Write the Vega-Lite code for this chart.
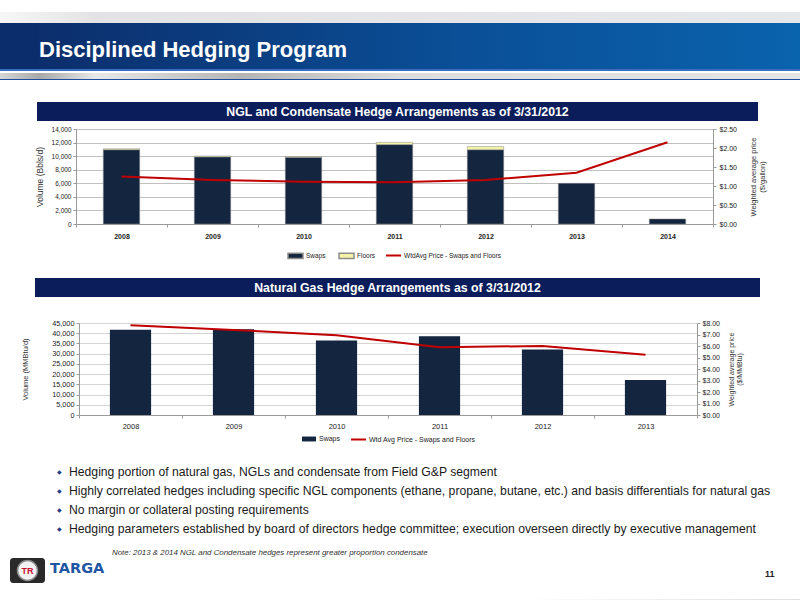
{
  "$schema": "https://vega.github.io/schema/vega-lite/v6.json",
  "background": "white",
  "padding": 0,
  "spacing": 0,
  "resolve": {"scale": {"color": "independent", "stroke": "independent"}, "legend": {"color": "independent", "stroke": "independent"}},
  "config": {
    "view": {"stroke": null},
    "font": "Liberation Sans",
    "concat": {"spacing": 0},
    "axis": {"labelFont": "Liberation Sans", "titleFont": "Liberation Sans"},
    "legend": {"labelFont": "Liberation Sans", "layout": {"bottom": {"anchor": "middle", "margin": 9}}}
  },
  "datasets": {
    "header": [{"t": "Disciplined Hedging Program"}],
    "title1": [{"t": "NGL and Condensate Hedge Arrangements as of 3/31/2012"}],
    "title2": [{"t": "Natural Gas Hedge Arrangements as of 3/31/2012"}],
    "ngl_volume": [
      {"year": "2008", "series": "Swaps", "volume": 10950},
      {"year": "2008", "series": "Floors", "volume": 150},
      {"year": "2009", "series": "Swaps", "volume": 9900},
      {"year": "2009", "series": "Floors", "volume": 120},
      {"year": "2010", "series": "Swaps", "volume": 9820},
      {"year": "2010", "series": "Floors", "volume": 100},
      {"year": "2011", "series": "Swaps", "volume": 11700},
      {"year": "2011", "series": "Floors", "volume": 330},
      {"year": "2012", "series": "Swaps", "volume": 10950},
      {"year": "2012", "series": "Floors", "volume": 480},
      {"year": "2013", "series": "Swaps", "volume": 5990},
      {"year": "2014", "series": "Swaps", "volume": 740}
    ],
    "ngl_price": [
      {"year": "2008", "series": "WtdAvg Price - Swaps and Floors", "price": 1.25},
      {"year": "2009", "series": "WtdAvg Price - Swaps and Floors", "price": 1.16},
      {"year": "2010", "series": "WtdAvg Price - Swaps and Floors", "price": 1.11},
      {"year": "2011", "series": "WtdAvg Price - Swaps and Floors", "price": 1.1},
      {"year": "2012", "series": "WtdAvg Price - Swaps and Floors", "price": 1.16},
      {"year": "2013", "series": "WtdAvg Price - Swaps and Floors", "price": 1.35},
      {"year": "2014", "series": "WtdAvg Price - Swaps and Floors", "price": 2.15}
    ],
    "gas_volume": [
      {"year": "2008", "series": "Swaps", "volume": 41750},
      {"year": "2009", "series": "Swaps", "volume": 41900},
      {"year": "2010", "series": "Swaps", "volume": 36400},
      {"year": "2011", "series": "Swaps", "volume": 38500},
      {"year": "2012", "series": "Swaps", "volume": 32000},
      {"year": "2013", "series": "Swaps", "volume": 17060}
    ],
    "gas_price": [
      {"year": "2008", "series": "Wtd Avg Price - Swaps and Floors", "price": 7.8},
      {"year": "2009", "series": "Wtd Avg Price - Swaps and Floors", "price": 7.4},
      {"year": "2010", "series": "Wtd Avg Price - Swaps and Floors", "price": 6.94},
      {"year": "2011", "series": "Wtd Avg Price - Swaps and Floors", "price": 5.9},
      {"year": "2012", "series": "Wtd Avg Price - Swaps and Floors", "price": 6.0},
      {"year": "2013", "series": "Wtd Avg Price - Swaps and Floors", "price": 5.23}
    ],
    "bullets": [
      {"text": "Hedging portion of natural gas, NGLs and condensate from Field G&P segment"},
      {"text": "Highly correlated hedges including specific NGL components (ethane, propane, butane, etc.) and basis differentials for natural gas"},
      {"text": "No margin or collateral posting requirements"},
      {"text": "Hedging parameters established by board of directors hedge committee; execution overseen directly by executive management"}
    ],
    "note": [{"t": "Note:   2013 & 2014 NGL and Condensate hedges represent greater proportion condensate"}],
    "logo": [{"name": "TARGA", "mark": "TR"}],
    "page": [{"n": "11"}]
  },
  "vconcat": [
    {"width": 800, "height": 12, "view": {"fill": "white"}, "data": {"values": []}, "mark": "text", "encoding": {}},
    {"width": 800, "height": 11, "data": {"values": [{}]}, "mark": {"type": "rect", "color": {"gradient": "linear", "x1": 0, "y1": 0, "x2": 1, "y2": 0, "stops": [{"offset": 0, "color": "#f7f7f7"}, {"offset": 0.12, "color": "#e3e3e5"}, {"offset": 1, "color": "#e6e7ea"}]}}, "encoding": {}},
    {"hconcat": [
      {"width": 39, "height": 46, "view": {"fill": "#0c2d6b"}, "data": {"values": []}, "mark": "text", "encoding": {}},
      {"width": 761, "height": 46, "data": {"name": "header"}, "layer": [
        {"mark": {"type": "rect", "color": {"gradient": "linear", "x1": 0, "y1": 0, "x2": 1, "y2": 0, "stops": [{"offset": 0, "color": "#0c2e6c"}, {"offset": 0.55, "color": "#0a4f97"}, {"offset": 1, "color": "#0a63ad"}]}}, "encoding": {}},
        {"mark": {"type": "text", "align": "left", "baseline": "middle", "dy": 4, "fontSize": 22, "fontWeight": "bold", "color": "white"}, "encoding": {"x": {"datum": 0, "type": "quantitative", "scale": {"domain": [0, 1]}, "axis": null}, "text": {"field": "t"}}}
      ]}
    ], "spacing": 0},
    {"width": 800, "height": 2, "view": {"fill": "#3a6cc0"}, "data": {"values": []}, "mark": "text", "encoding": {}},
    {"width": 800, "height": 2, "view": {"fill": "white"}, "data": {"values": []}, "mark": "text", "encoding": {}},
    {"width": 800, "height": 6, "data": {"values": [{}]}, "mark": {"type": "rect", "color": {"gradient": "linear", "x1": 0, "y1": 0, "x2": 1, "y2": 0, "stops": [{"offset": 0, "color": "#d6d6d6"}, {"offset": 0.05, "color": "#a8a8a8"}, {"offset": 0.12, "color": "#e8e8e8"}, {"offset": 0.3, "color": "#b4b4b4"}, {"offset": 0.5, "color": "#dcdcdc"}, {"offset": 1, "color": "#e4e4e4"}]}}, "encoding": {}},
    {"width": 800, "height": 1, "view": {"fill": "#1d4f9a"}, "data": {"values": []}, "mark": "text", "encoding": {}},
    {"width": 800, "height": 22, "view": {"fill": "white"}, "data": {"values": []}, "mark": "text", "encoding": {}},
    {"hconcat": [
      {"width": 37, "height": 19, "view": {"fill": "white"}, "data": {"values": []}, "mark": "text", "encoding": {}},
      {"width": 721, "height": 19, "view": {"fill": "#0b1e5b"}, "data": {"name": "title1"}, "mark": {"type": "text", "fontSize": 12.3, "fontWeight": "bold", "color": "white", "baseline": "middle", "align": "center"}, "encoding": {"text": {"field": "t"}}}
    ], "spacing": 0},
    {"width": 800, "height": 4, "view": {"fill": "white"}, "data": {"values": []}, "mark": "text", "encoding": {}},
    {"hconcat": [
      {"width": 35, "height": 1, "view": {"fill": "white"}, "data": {"values": []}, "mark": "text", "encoding": {}},
      {
        "width": 637, "height": 95,
        "layer": [
          {
            "data": {"name": "ngl_volume"},
            "mark": {"type": "bar", "width": {"band": 0.4}, "stroke": "#8c8c8c", "strokeWidth": 0.5},
            "encoding": {
              "x": {"field": "year", "type": "ordinal", "scale": {"paddingInner": 0, "paddingOuter": 0},
                    "axis": {"title": null, "labelAngle": 0, "labelFontSize": 7, "labelFontWeight": "bold", "labelColor": "#222", "tickBand": "extent", "tickSize": 3, "tickColor": "#9a9a9a", "domainColor": "#9a9a9a", "labelPadding": 5}},
              "y": {"field": "volume", "type": "quantitative", "stack": "zero", "scale": {"domain": [0, 14000], "nice": false},
                    "axis": {"title": "Volume (Bbls/d)", "values": [0, 2000, 4000, 6000, 8000, 10000, 12000, 14000], "format": ",.0f", "labelFontSize": 6.5, "labelColor": "#222", "tickSize": 3, "tickColor": "#9a9a9a", "domainColor": "#9a9a9a", "gridColor": "#c0c0c0", "labelPadding": 2, "titleFontSize": 8.5, "titleFontWeight": "normal", "titleColor": "#333", "titlePadding": 7}},
              "color": {"field": "series", "type": "nominal", "scale": {"domain": ["Swaps", "Floors"], "range": ["#14253f", "#f3f3a8"]},
                        "legend": {"orient": "bottom", "direction": "horizontal", "title": null, "symbolType": "M-1,-0.35H1V0.35H-1Z", "symbolSize": 225, "labelFontSize": 6.5, "labelColor": "#222", "labelOffset": 2, "columnPadding": 10, "offset": 8}},
              "order": {"field": "series", "sort": "descending"}
            }
          },
          {
            "data": {"name": "ngl_price"},
            "mark": {"type": "line", "strokeWidth": 2},
            "encoding": {
              "x": {"field": "year", "type": "ordinal"},
              "y": {"field": "price", "type": "quantitative", "scale": {"domain": [0, 2.5], "nice": false},
                    "axis": {"orient": "right", "title": ["Weighted average price", "($/gallon)"], "values": [0, 0.5, 1, 1.5, 2, 2.5], "format": "$.2f", "grid": false, "labelFontSize": 7, "labelColor": "#222", "tickSize": 3, "tickColor": "#9a9a9a", "domainColor": "#9a9a9a", "labelPadding": 3, "titleAngle": 270, "titleBaseline": "top", "titleFontSize": 7.5, "titleFontWeight": "normal", "titleColor": "#333", "titlePadding": 4, "titleLineHeight": 9}},
              "stroke": {"field": "series", "type": "nominal", "scale": {"range": ["#c00000"]},
                         "legend": {"orient": "bottom", "title": null, "symbolType": "stroke", "symbolSize": 225, "symbolStrokeWidth": 2, "labelFontSize": 6.5, "labelColor": "#222", "labelOffset": 2, "offset": 8}}
            }
          }
        ],
        "resolve": {"scale": {"y": "independent"}}
      }
    ], "spacing": 0, "resolve": {"scale": {"color": "independent", "stroke": "independent"}, "legend": {"color": "independent", "stroke": "independent"}}},
    {"width": 800, "height": 16, "view": {"fill": "white"}, "data": {"values": []}, "mark": "text", "encoding": {}},
    {"hconcat": [
      {"width": 35, "height": 19, "view": {"fill": "white"}, "data": {"values": []}, "mark": "text", "encoding": {}},
      {"width": 725, "height": 19, "view": {"fill": "#0b1e5b"}, "data": {"name": "title2"}, "mark": {"type": "text", "fontSize": 12.3, "fontWeight": "bold", "color": "white", "baseline": "middle", "align": "center"}, "encoding": {"text": {"field": "t"}}}
    ], "spacing": 0},
    {"width": 800, "height": 22, "view": {"fill": "white"}, "data": {"values": []}, "mark": "text", "encoding": {}},
    {"hconcat": [
      {"width": 21, "height": 1, "view": {"fill": "white"}, "data": {"values": []}, "mark": "text", "encoding": {}},
      {
        "width": 618, "height": 92,
        "layer": [
          {
            "data": {"name": "gas_volume"},
            "mark": {"type": "bar", "width": {"band": 0.4}},
            "encoding": {
              "x": {"field": "year", "type": "ordinal", "scale": {"paddingInner": 0, "paddingOuter": 0},
                    "axis": {"title": null, "labelAngle": 0, "labelFontSize": 7.5, "labelColor": "#222", "tickBand": "extent", "tickSize": 3, "tickColor": "#9a9a9a", "domainColor": "#9a9a9a", "labelPadding": 4}},
              "y": {"field": "volume", "type": "quantitative", "scale": {"domain": [0, 45000], "nice": false},
                    "axis": {"title": "Volume (MMBtu/d)", "values": [0, 5000, 10000, 15000, 20000, 25000, 30000, 35000, 40000, 45000], "format": ",.0f", "labelFontSize": 7.3, "labelColor": "#222", "tickSize": 3, "tickColor": "#9a9a9a", "domainColor": "#9a9a9a", "gridColor": "#d4d4d4", "labelPadding": 2, "titleFontSize": 7.5, "titleFontWeight": "normal", "titleColor": "#333", "titlePadding": 22}},
              "color": {"field": "series", "type": "nominal", "scale": {"domain": ["Swaps"], "range": ["#14253f"]},
                        "legend": {"orient": "bottom", "direction": "horizontal", "title": null, "symbolType": "M-1,-0.35H1V0.35H-1Z", "symbolSize": 196, "labelFontSize": 7, "labelColor": "#222", "labelOffset": 2, "offset": 1}}
            }
          },
          {
            "data": {"name": "gas_price"},
            "mark": {"type": "line", "strokeWidth": 2},
            "encoding": {
              "x": {"field": "year", "type": "ordinal"},
              "y": {"field": "price", "type": "quantitative", "scale": {"domain": [0, 8], "nice": false},
                    "axis": {"orient": "right", "title": ["Weighted average price", "($/MMBtu)"], "values": [0, 1, 2, 3, 4, 5, 6, 7, 8], "format": "$.2f", "grid": false, "labelFontSize": 7, "labelColor": "#222", "tickSize": 3, "tickColor": "#9a9a9a", "domainColor": "#9a9a9a", "labelPadding": 2, "titleAngle": 270, "titleBaseline": "top", "titleFontSize": 7, "titleFontWeight": "normal", "titleColor": "#333", "titlePadding": 0, "titleLineHeight": 8}},
              "stroke": {"field": "series", "type": "nominal", "scale": {"range": ["#c00000"]},
                         "legend": {"orient": "bottom", "title": null, "symbolType": "stroke", "symbolSize": 225, "symbolStrokeWidth": 2, "labelFontSize": 7, "labelColor": "#222", "labelOffset": 2, "offset": 1}}
            }
          }
        ],
        "resolve": {"scale": {"y": "independent"}}
      }
    ], "spacing": 0, "resolve": {"scale": {"color": "independent", "stroke": "independent"}, "legend": {"color": "independent", "stroke": "independent"}}},
    {"width": 800, "height": 19, "view": {"fill": "white"}, "data": {"values": []}, "mark": "text", "encoding": {}},
    {"hconcat": [
      {"width": 57, "height": 75, "view": {"fill": "white"}, "data": {"values": []}, "mark": "text", "encoding": {}},
      {
        "width": 740, "height": 75,
        "data": {"name": "bullets"},
        "encoding": {
          "y": {"field": "text", "type": "nominal", "sort": null, "axis": null, "scale": {"paddingInner": 0, "paddingOuter": 0}},
          "x": {"datum": 0, "type": "quantitative", "scale": {"domain": [0, 1]}, "axis": null}
        },
        "layer": [
          {"mark": {"type": "text", "text": "◆", "align": "left", "baseline": "middle", "fontSize": 6, "color": "#1f3c88", "font": "DejaVu Sans"}},
          {"mark": {"type": "text", "align": "left", "baseline": "middle", "dx": 12, "fontSize": 12.2, "color": "#1a1a1a"}, "encoding": {"text": {"field": "text"}}}
        ]
      }
    ], "spacing": 0},
    {"width": 800, "height": 11, "view": {"fill": "white"}, "data": {"values": []}, "mark": "text", "encoding": {}},
    {"hconcat": [
      {"width": 112, "height": 8, "view": {"fill": "white"}, "data": {"values": []}, "mark": "text", "encoding": {}},
      {"width": 500, "height": 8, "data": {"name": "note"}, "mark": {"type": "text", "align": "left", "baseline": "middle", "fontSize": 7.9, "fontStyle": "italic", "color": "#333"}, "encoding": {"x": {"datum": 0, "type": "quantitative", "scale": {"domain": [0, 1]}, "axis": null}, "text": {"field": "t"}}}
    ], "spacing": 0},
    {"hconcat": [
      {"width": 10, "height": 25, "view": {"fill": "white"}, "data": {"values": []}, "mark": "text", "encoding": {}},
      {"width": 35, "height": 25, "data": {"name": "logo"}, "layer": [
        {"mark": {"type": "rect", "color": "#2a2a2a", "cornerRadius": 3}, "encoding": {}},
        {"mark": {"type": "point", "shape": "circle", "size": 400, "filled": true, "color": "#f2f2f2", "stroke": "#8a8a8a", "strokeWidth": 1.5, "opacity": 1}, "encoding": {}},
        {"mark": {"type": "text", "color": "#c8102e", "fontSize": 9, "fontWeight": "bold", "baseline": "middle", "align": "center"}, "encoding": {"text": {"field": "mark"}}}
      ]},
      {"width": 5, "height": 25, "view": {"fill": "white"}, "data": {"values": []}, "mark": "text", "encoding": {}},
      {"width": 72, "height": 25, "data": {"name": "logo"}, "mark": {"type": "text", "align": "left", "baseline": "middle", "dy": -2, "fontSize": 14.5, "fontWeight": "bold", "color": "#1f56a3", "font": "DejaVu Sans"}, "encoding": {"x": {"datum": 0, "type": "quantitative", "scale": {"domain": [0, 1]}, "axis": null}, "text": {"field": "name"}}},
      {"width": 643, "height": 25, "view": {"fill": "white"}, "data": {"values": []}, "mark": "text", "encoding": {}},
      {"width": 20, "height": 25, "data": {"name": "page"}, "mark": {"type": "text", "align": "left", "baseline": "middle", "dy": 3, "fontSize": 9, "fontWeight": "bold", "color": "#222"}, "encoding": {"x": {"datum": 0, "type": "quantitative", "scale": {"domain": [0, 1]}, "axis": null}, "text": {"field": "n"}}}
    ], "spacing": 0},
    {"width": 800, "height": 15, "view": {"fill": "white"}, "data": {"values": []}, "mark": "text", "encoding": {}},
    {"hconcat": [
      {"width": 520, "height": 11, "view": {"fill": "white"}, "data": {"values": []}, "mark": "text", "encoding": {}},
      {"width": 280, "height": 11, "data": {"values": [{}]}, "mark": {"type": "rect", "color": {"gradient": "linear", "x1": 0, "y1": 0, "x2": 1, "y2": 0, "stops": [{"offset": 0, "color": "#ffffff"}, {"offset": 1, "color": "#dedede"}]}}, "encoding": {}}
    ], "spacing": 0}
  ]
}
